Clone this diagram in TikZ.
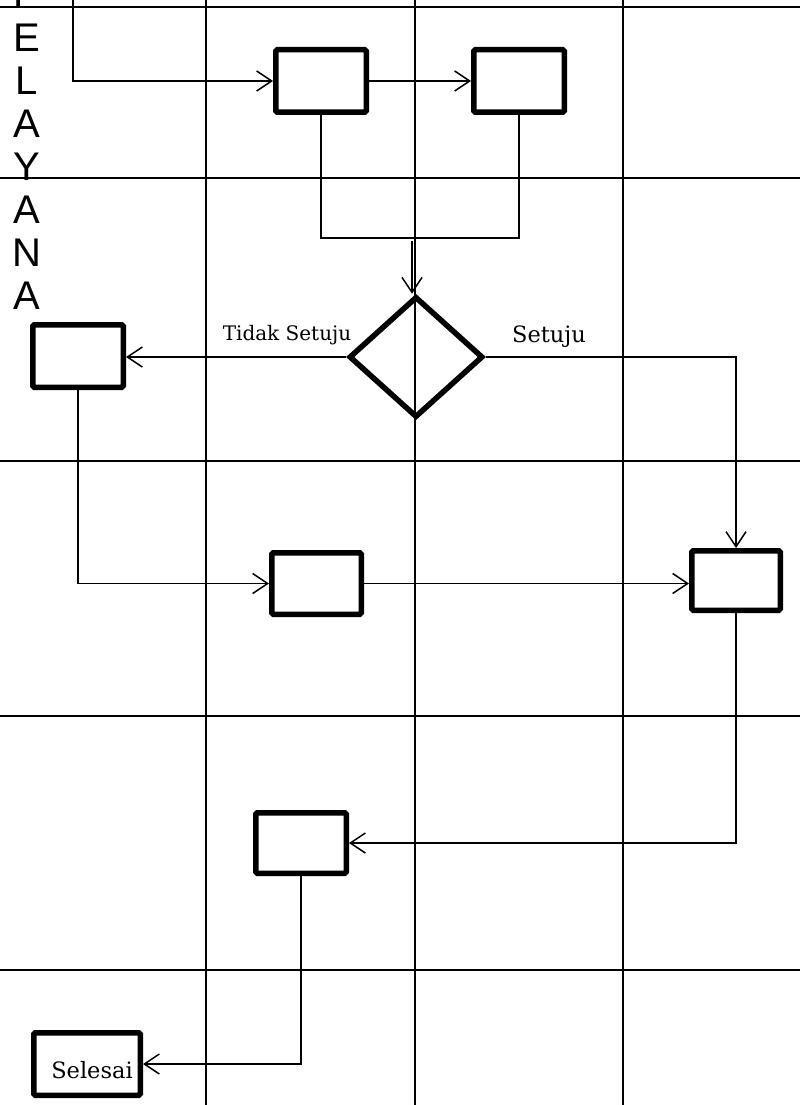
\documentclass[tikz,border=0pt]{standalone}
\usepackage{fontspec}
\setmainfont{DejaVu Serif}
\newfontfamily\lsans{Liberation Sans}
\usetikzlibrary{arrows.meta,shapes.geometric}
\begin{document}
\begin{tikzpicture}[x=1pt,y=-1pt,
  gridline/.style={line width=2.2pt},
  plain/.style={line width=1.5pt},
  conn/.style={line width=1.5pt,-{Straight Barb[length=15pt,width=20pt,line width=1.5pt]}},
  proc/.style={draw,line width=5.5pt,rounded corners=1.5pt,inner sep=0pt},
  dec/.style={draw,diamond,line width=5.5pt,inner sep=0pt,minimum width=134pt,minimum height=121pt},
  letter/.style={font=\lsans\fontsize{40}{40}\selectfont,anchor=base,inner sep=0pt},
  lbl/.style={anchor=base,inner sep=0pt}
]
\useasboundingbox (0,0) rectangle (800,1105);
% grid
\foreach \yy in {7,178,461,716,970} \draw[gridline] (0,\yy) -- (800,\yy);
\foreach \xx in {206,415,623} \draw[gridline] (\xx,0) -- (\xx,1105);
% vertical letters
\node[letter] (l0) at (27,8.5) {P};
\node[letter] (l1) at (27,52) {E};
\node[letter] (l2) at (27,95) {L};
\node[letter] (l3) at (27,138) {A};
\node[letter] (l4) at (27,180.5) {Y};
\node[letter] (l5) at (27,223.5) {A};
\node[letter] (l6) at (27,266.5) {N};
\node[letter] (l7) at (27,309.5) {A};
% boxes
\node[proc,minimum width=90.5pt,minimum height=62.5pt] (b1) at (321,81) {};
\node[proc,minimum width=90.5pt,minimum height=62.5pt] (b2) at (519,81) {};
\node[proc,minimum width=90.5pt,minimum height=62.5pt] (b3) at (78,356) {};
\node[proc,minimum width=88.5pt,minimum height=59.5pt] (b4) at (736,580.5) {};
\node[proc,minimum width=89.5pt,minimum height=61.5pt] (b5) at (316.5,583.5) {};
\node[proc,minimum width=90.5pt,minimum height=60.5pt] (b6) at (301,843) {};
\node[proc,minimum width=106.5pt,minimum height=62.5pt] (b7) at (87,1064) {};
\node[lbl,font=\fontsize{22.5}{22.5}\selectfont] (t7) at (92,1078) {Selesai};
% decision
\node[dec] (d) at (416,357) {};
\node[lbl,font=\fontsize{20}{20}\selectfont] (tno) at (287,340) {Tidak Setuju};
\node[lbl,font=\fontsize{22.5}{22.5}\selectfont] (tyes) at (549,342) {Setuju};
% connectors
\coordinate (s0) at (73,0);
\coordinate (m1) at (412,238);
\coordinate (m2) at (412,241);
\draw[conn] (s0) |- (b1.west);
\draw[conn] (b1.east) -- (b2.west);
\draw[plain] (b1.south) |- (m1) -| (b2.south);
\draw[conn] (m2) -- (m2 |- d.north);
\draw[conn] (d.west) -- (d.west -| b3.east);
\draw[conn] (d.east) -| (b4.north);
\draw[conn] (b3.south) |- (b5.west);
\draw[conn] (b5.east) -- (b5.east -| b4.west);
\draw[conn] (b4.south) |- (b6.east);
\draw[conn] (b6.south) |- (b7.east);
\end{tikzpicture}
\end{document}
